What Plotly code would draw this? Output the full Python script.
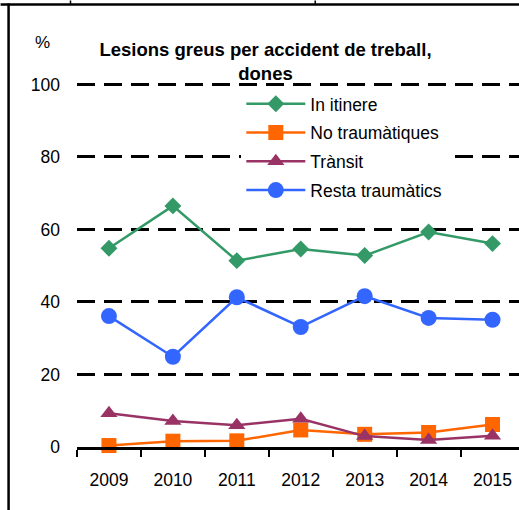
import plotly.graph_objects as go

years = ["2009", "2010", "2011", "2012", "2013", "2014", "2015"]
in_itinere = [54.8, 66.5, 51.4, 54.6, 52.8, 59.3, 56.1]
no_traumatiques = [0.4, 1.6, 1.7, 4.7, 3.5, 4.0, 6.2]
transit = [9.3, 7.2, 6.0, 7.8, 3.0, 1.9, 3.1]
resta_traumatics = [36.1, 24.9, 41.3, 33.1, 41.6, 35.6, 35.1]

FONT = "Liberation Sans, Arial, sans-serif"

series = [
    ("In itinere", in_itinere, "#339966", "diamond", 13),
    ("No traumàtiques", no_traumatiques, "#FF6600", "square", 15),
    ("Trànsit", transit, "#993366", "triangle-up", 15),
    ("Resta traumàtics", resta_traumatics, "#3366FF", "circle", 16),
]

fig = go.Figure()
for i, (name, vals, col, sym, sz) in enumerate(series):
    fig.add_trace(go.Scatter(
        x=years, y=vals, name=name, mode="lines+markers",
        line=dict(color=col, width=2.5),
        marker=dict(color=col, symbol=sym, size=sz),
        cliponaxis=False, legendgroup=str(i),
    ))

BOT = 446.8
Y100 = 84.0
UNIT = (BOT - Y100) / 100.0
YMAX = 101.5
L, T = 76.5, BOT - YMAX * UNIT
PW, PH = 519 - L, BOT - T


def px_x(p):
    return (p - L) / PW


def px_y(p):
    return (BOT - p) / PH


fig.update_layout(
    width=519, height=510,
    margin=dict(l=L, r=0, t=T, b=510 - BOT, pad=0),
    paper_bgcolor="white", plot_bgcolor="white",
    font=dict(family=FONT, color="black", size=17.5),
    title=dict(text="<b>Lesions greus per accident de treball,<br>dones</b>",
               x=265.5 / 519, xanchor="center", xref="container",
               y=1 - 56 / 510, yanchor="middle", yref="container",
               font=dict(size=18.5, family=FONT)),
    showlegend=True,
    legend=dict(x=px_x(241), xanchor="left", y=px_y(85.5), yanchor="top",
                bgcolor="white", borderwidth=0, font=dict(size=17.5, family=FONT),
                tracegroupgap=3, itemwidth=59),
    xaxis=dict(type="category", range=[-0.5, 6.414], tickson="boundaries",
               showline=True, linecolor="black", linewidth=2.5,
               ticks="outside", ticklen=7, tickwidth=2, tickcolor="black",
               showgrid=False, zeroline=False, ticklabelstandoff=15,
               tickfont=dict(size=17.5)),
    yaxis=dict(range=[0, YMAX], tickvals=[0, 20, 40, 60, 80, 100],
               showgrid=True, gridcolor="black", gridwidth=3, griddash="18px,9px",
               zeroline=False, showline=False, ticks="", ticklabelstandoff=16,
               tickfont=dict(size=17.5)),
    annotations=[dict(text="%", xref="paper", yref="paper",
                      x=px_x(42), y=px_y(42),
                      xanchor="center", yanchor="middle", showarrow=False,
                      font=dict(size=17, family=FONT))],
    shapes=[
        dict(type="line", xref="paper", yref="paper",
             x0=px_x(8), x1=px_x(8), y0=px_y(3), y1=px_y(512),
             line=dict(color="black", width=2.5)),
        dict(type="rect", xref="paper", yref="paper",
             x0=px_x(0), x1=px_x(519), y0=px_y(5.2), y1=px_y(2.8),
             fillcolor="black", line=dict(width=0)),
        dict(type="line", xref="paper", yref="paper",
             x0=px_x(70), x1=px_x(70), y0=px_y(0), y1=px_y(4),
             line=dict(color="black", width=1.5)),
        dict(type="line", xref="paper", yref="paper",
             x0=px_x(315), x1=px_x(315), y0=px_y(0), y1=px_y(4),
             line=dict(color="black", width=1.5)),
    ],
)
fig.write_html("out.html", config={"displayModeBar": False},
               post_script="document.body.style.margin='0px';")
